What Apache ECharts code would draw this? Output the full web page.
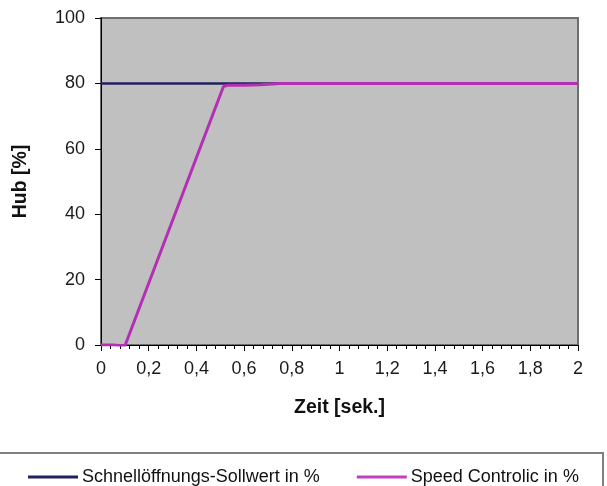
<!DOCTYPE html>
<html>
<head>
<meta charset="utf-8">
<script src="https://cdn.jsdelivr.net/npm/echarts@6/dist/echarts.min.js"></script>
<style>html,body{margin:0;padding:0;background:#fff}#c{width:607px;height:486px}</style>
</head>
<body>
<div id="c"></div>
<script>
// Data
var sollTime = [0, 2];
var sollValue = [80, 80];
var speedTime = [0, 0.05, 0.1, 0.513, 0.53, 0.6, 0.67, 0.75, 1.2, 2];
var speedValue = [0, 0, -0.3, 79.0, 79.4, 79.4, 79.6, 80, 80, 80];
var seriesNames = ['Schnellöffnungs-Sollwert in %', 'Speed Controlic in %'];
var xTitle = 'Zeit [sek.]';
var yTitle = 'Hub [%]';

function pairs(xs, ys) { return xs.map(function (x, i) { return [x, ys[i]]; }); }

var chart = echarts.init(document.getElementById('c'));
var font = 'Liberation Sans, Arial, sans-serif';
chart.setOption({
  backgroundColor: '#ffffff',
  animation: false,
  textStyle: { fontFamily: font },
  grid: {
    left: 101, right: 29, top: 18, bottom: 141,
    show: true, backgroundColor: '#c0c0c0', borderColor: '#6e6e6e', borderWidth: 2
  },
  xAxis: {
    type: 'value', min: 0, max: 2, interval: 0.2,
    name: xTitle, nameLocation: 'middle', nameGap: 53,
    nameTextStyle: { fontSize: 19.5, fontWeight: 'bold', color: '#111', fontFamily: font },
    axisLine: { show: true, onZero: false, lineStyle: { color: '#000', width: 1 } },
    axisTick: { show: true, length: 6, lineStyle: { color: '#000' } },
    minorTick: { show: true, splitNumber: 5, length: 4, lineStyle: { color: '#000' } },
    splitLine: { show: false },
    axisLabel: {
      margin: 15, fontSize: 18, color: '#1a1a1a', fontFamily: font,
      formatter: function (v) { return String(Math.round(v * 10) / 10).replace('.', ','); }
    }
  },
  yAxis: {
    type: 'value', min: 0, max: 100, interval: 20,
    name: yTitle, nameLocation: 'middle', nameGap: 70,
    nameTextStyle: { fontSize: 19.5, fontWeight: 'bold', color: '#111', fontFamily: font },
    axisLine: { show: true, lineStyle: { color: '#000', width: 1 } },
    axisTick: { show: true, length: 6, lineStyle: { color: '#000' } },
    splitLine: { show: false },
    axisLabel: { margin: 16, fontSize: 18, color: '#1a1a1a', fontFamily: font }
  },
  legend: {
    left: 23, top: 463, itemWidth: 50, itemHeight: 3, itemGap: 37,
    icon: 'rect',
    textStyle: { fontSize: 18, color: '#111', fontFamily: font, padding: [0, 0, 0, -1] },
    data: seriesNames
  },
  graphic: [{
    type: 'rect', silent: true, z: -1,
    shape: { x: -2, y: 453, width: 605, height: 40 },
    style: { fill: 'none', stroke: '#808080', lineWidth: 2 }
  }],
  series: [
    {
      name: seriesNames[0], type: 'line', showSymbol: false, symbol: 'none',
      data: pairs(sollTime, sollValue),
      lineStyle: { color: '#22215e', width: 2.5 }, itemStyle: { color: '#22215e' }, z: 2
    },
    {
      name: seriesNames[1], type: 'line', showSymbol: false, symbol: 'none',
      data: pairs(speedTime, speedValue),
      lineStyle: { color: '#b52fb5', width: 3 }, itemStyle: { color: '#c040c0' }, z: 3
    }
  ]
});
</script>
</body>
</html>
